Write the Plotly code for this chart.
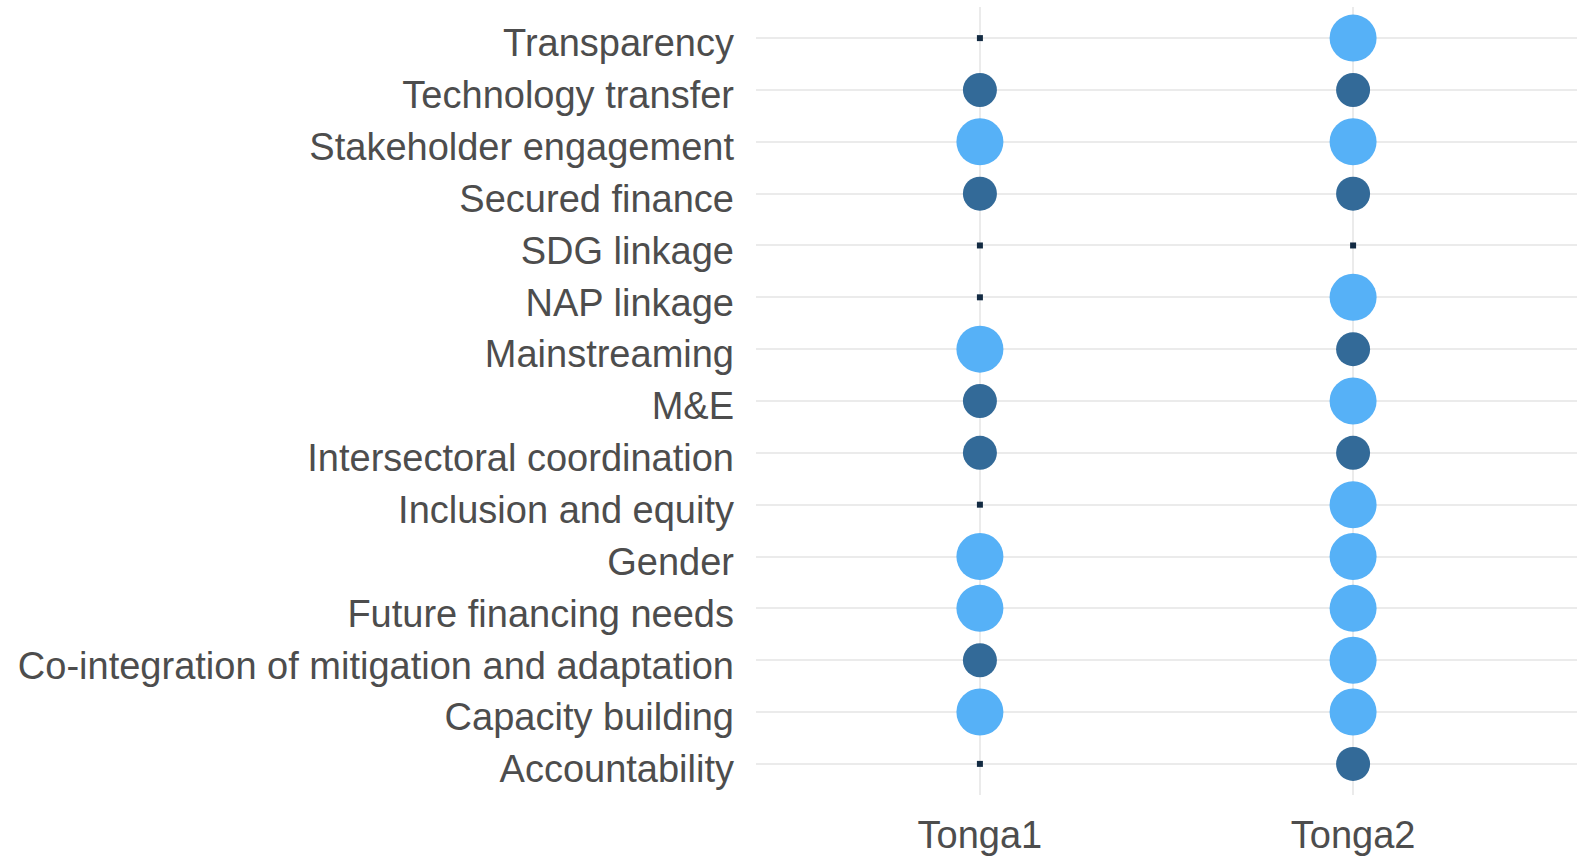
import plotly.graph_objects as go

categories = [
    "Accountability",
    "Capacity building",
    "Co-integration of mitigation and adaptation",
    "Future financing needs",
    "Gender",
    "Inclusion and equity",
    "Intersectoral coordination",
    "M&E",
    "Mainstreaming",
    "NAP linkage",
    "SDG linkage",
    "Secured finance",
    "Stakeholder engagement",
    "Technology transfer",
    "Transparency",
]
countries = ["Tonga1", "Tonga2"]
tonga1 = [0, 2, 1, 2, 2, 0, 1, 1, 2, 0, 0, 1, 2, 1, 0]
tonga2 = [1, 2, 2, 2, 2, 2, 1, 2, 1, 2, 0, 1, 2, 1, 2]

color_map = {0: "#132B43", 1: "#336A98", 2: "#56B1F7"}
size_map = {0: 6, 1: 34, 2: 47}
symbol_map = {0: "square", 1: "circle", 2: "circle"}

fig = go.Figure()
for country, vals in zip(countries, [tonga1, tonga2]):
    fig.add_trace(go.Scatter(
        x=[country] * len(categories),
        y=categories,
        mode="markers",
        marker=dict(
            color=[color_map[v] for v in vals],
            size=[size_map[v] for v in vals],
            symbol=[symbol_map[v] for v in vals],
            line=dict(width=0),
            opacity=1,
        ),
        showlegend=False,
        hoverinfo="x+y",
    ))

font = dict(family="Liberation Sans, Arial, sans-serif", size=38, color="#4D4D4D")

fig.update_layout(
    template="none",
    width=1581,
    height=856,
    margin=dict(l=756, r=4, t=7, b=61),
    paper_bgcolor="white",
    plot_bgcolor="white",
    font=font,
    xaxis=dict(
        type="category",
        categoryorder="array",
        categoryarray=countries,
        range=[-0.6, 1.6],
        showgrid=True,
        gridcolor="#EBEBEB",
        gridwidth=2,
        zeroline=False,
        showline=False,
        ticks="",
        tickfont=font,
        ticklabelstandoff=14,
        automargin=False,
        fixedrange=True,
    ),
    yaxis=dict(
        type="category",
        categoryorder="array",
        categoryarray=categories,
        range=[-0.6, 14.6],
        showgrid=True,
        gridcolor="#EBEBEB",
        gridwidth=2,
        zeroline=False,
        showline=False,
        ticks="",
        tickfont=font,
        ticklabelstandoff=21,
        ticklabelshift=5,
        automargin=False,
        fixedrange=True,
    ),
)

fig.write_html("out.html")
